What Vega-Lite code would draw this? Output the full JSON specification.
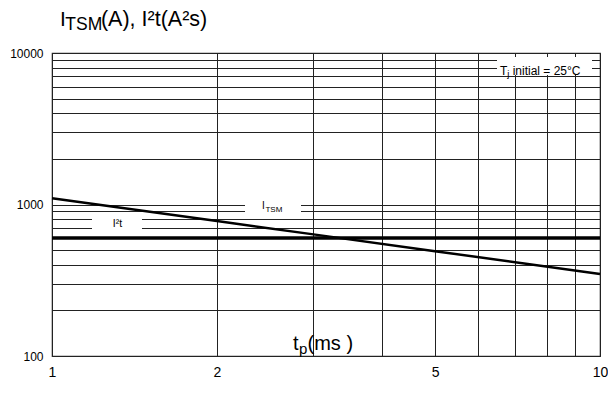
{
  "$schema": "https://vega.github.io/schema/vega-lite/v6.json",
  "width": 548,
  "height": 303,
  "autosize": {"type": "none"},
  "padding": {"left": 52, "top": 53, "right": 8, "bottom": 49},
  "background": "white",
  "config": {
    "font": "Liberation Sans",
    "view": {"stroke": "#333", "strokeWidth": 1.2},
    "mark": {"color": "black"},
    "text": {"font": "Liberation Sans", "color": "black", "fill": "black"}
  },
  "datasets": {
    "curves": [
      {"t": 1, "value": 1100, "series": "ITSM"},
      {"t": 2, "value": 778, "series": "ITSM"},
      {"t": 3, "value": 635, "series": "ITSM"},
      {"t": 5, "value": 492, "series": "ITSM"},
      {"t": 10, "value": 348, "series": "ITSM"},
      {"t": 1, "value": 600, "series": "I2t"},
      {"t": 10, "value": 600, "series": "I2t"}
    ]
  },
  "encoding": {
    "x": {"field": "t", "type": "quantitative", "scale": {"type": "log", "domain": [1, 10]}},
    "y": {"field": "value", "type": "quantitative", "scale": {"type": "log", "domain": [100, 10000]}}
  },
  "layer": [
    {
      "data": {"values": [{"t": 2.531, "value": 962.6}]},
      "mark": {"type": "point", "shape": "M-1,-0.25H1V0.25H-1Z", "size": 3136, "filled": true, "color": "white", "opacity": 1, "strokeWidth": 0},
      "encoding": {
        "x": {"field": "t", "type": "quantitative", "scale": {"type": "log", "domain": [1, 10]},
          "axis": {"values": [1, 2, 3, 4, 5, 6, 7, 8, 9, 10], "title": null, "grid": true, "gridColor": "#222", "gridWidth": 1, "ticks": false, "domain": false,
            "labelExpr": "datum.value == 1 || datum.value == 2 || datum.value == 5 || datum.value == 10 ? format(datum.value, 'd') : ''",
            "labelFontSize": 14, "labelColor": "black", "labelPadding": 9, "labelFlush": false, "labelOverlap": false, "labelBound": false}},
        "y": {"field": "value", "type": "quantitative", "scale": {"type": "log", "domain": [100, 10000]},
          "axis": {"values": [100, 200, 300, 400, 500, 600, 700, 800, 900, 1000, 2000, 3000, 4000, 5000, 6000, 7000, 8000, 9000, 10000], "title": null, "grid": true, "gridColor": "#222", "gridWidth": 1, "ticks": false, "domain": false,
            "labelExpr": "datum.value == 100 || datum.value == 1000 || datum.value == 10000 ? format(datum.value, 'd') : ''",
            "labelFontSize": 12, "labelColor": "black", "labelPadding": 9, "labelFlush": false, "labelOverlap": false, "labelBound": false}}
      }
    },
    {
      "data": {"values": [{"t": 1.314, "value": 755}]},
      "mark": {"type": "point", "shape": "M-1,-0.34H1V0.34H-1Z", "size": 2500, "filled": true, "color": "white", "opacity": 1, "strokeWidth": 0}
    },
    {
      "data": {"values": [{"t": 7.92, "value": 8208}]},
      "mark": {"type": "point", "shape": "M-1,-0.19H1V0.19H-1Z", "size": 9025, "filled": true, "color": "white", "opacity": 1, "strokeWidth": 0}
    },
    {
      "data": {"name": "curves"},
      "transform": [{"filter": "datum.series == 'ITSM'"}],
      "mark": {"type": "line", "color": "black", "strokeWidth": 2.5}
    },
    {
      "data": {"name": "curves"},
      "transform": [{"filter": "datum.series == 'I2t'"}],
      "mark": {"type": "line", "color": "black", "strokeWidth": 3.5}
    },
    {
      "data": {"values": [{"t": 1.034, "value": 15070, "text": "I"}]},
      "mark": {"type": "text", "color": "black", "align": "left", "baseline": "alphabetic", "fontSize": 21},
      "encoding": {"text": {"field": "text"}}
    },
    {
      "data": {"values": [{"t": 1.034, "value": 15070, "text": "TSM"}]},
      "mark": {"type": "text", "color": "black", "align": "left", "baseline": "alphabetic", "fontSize": 17.5, "dx": 5.4, "dy": 4},
      "encoding": {"text": {"field": "text"}}
    },
    {
      "data": {"values": [{"t": 1.034, "value": 15070, "text": "(A), I²t(A²s)"}]},
      "mark": {"type": "text", "color": "black", "align": "left", "baseline": "alphabetic", "fontSize": 21.5, "dx": 41},
      "encoding": {"text": {"field": "text"}}
    },
    {
      "data": {"values": [{"t": 2.416, "value": 927, "text": "I"}]},
      "mark": {"type": "text", "color": "black", "align": "left", "baseline": "alphabetic", "fontSize": 10},
      "encoding": {"text": {"field": "text"}}
    },
    {
      "data": {"values": [{"t": 2.416, "value": 927, "text": "TSM"}]},
      "mark": {"type": "text", "color": "black", "align": "left", "baseline": "alphabetic", "fontSize": 8, "dx": 3.5, "dy": 3},
      "encoding": {"text": {"field": "text"}}
    },
    {
      "data": {"values": [{"t": 1.317, "value": 705, "text": "I²t"}]},
      "mark": {"type": "text", "color": "black", "align": "center", "baseline": "alphabetic", "fontSize": 10.5},
      "encoding": {"text": {"field": "text"}}
    },
    {
      "data": {"values": [{"t": 6.57, "value": 7211, "text": "T"}]},
      "mark": {"type": "text", "color": "black", "align": "left", "baseline": "alphabetic", "fontSize": 12},
      "encoding": {"text": {"field": "text"}}
    },
    {
      "data": {"values": [{"t": 6.57, "value": 7211, "text": "j"}]},
      "mark": {"type": "text", "color": "black", "align": "left", "baseline": "alphabetic", "fontSize": 9.5, "dx": 7.3, "dy": 2.5},
      "encoding": {"text": {"field": "text"}}
    },
    {
      "data": {"values": [{"t": 6.57, "value": 7211, "text": "initial = 25°C"}]},
      "mark": {"type": "text", "color": "black", "align": "left", "baseline": "alphabetic", "fontSize": 12, "dx": 12.6},
      "encoding": {"text": {"field": "text"}}
    },
    {
      "data": {"values": [{"t": 2.753, "value": 109.5, "text": "t"}]},
      "mark": {"type": "text", "color": "black", "align": "left", "baseline": "alphabetic", "fontSize": 20},
      "encoding": {"text": {"field": "text"}}
    },
    {
      "data": {"values": [{"t": 2.753, "value": 109.5, "text": "p"}]},
      "mark": {"type": "text", "color": "black", "align": "left", "baseline": "alphabetic", "fontSize": 15, "dx": 6, "dy": 4},
      "encoding": {"text": {"field": "text"}}
    },
    {
      "data": {"values": [{"t": 2.753, "value": 109.5, "text": "(ms )"}]},
      "mark": {"type": "text", "color": "black", "align": "left", "baseline": "alphabetic", "fontSize": 20, "dx": 14.5},
      "encoding": {"text": {"field": "text"}}
    }
  ]
}
